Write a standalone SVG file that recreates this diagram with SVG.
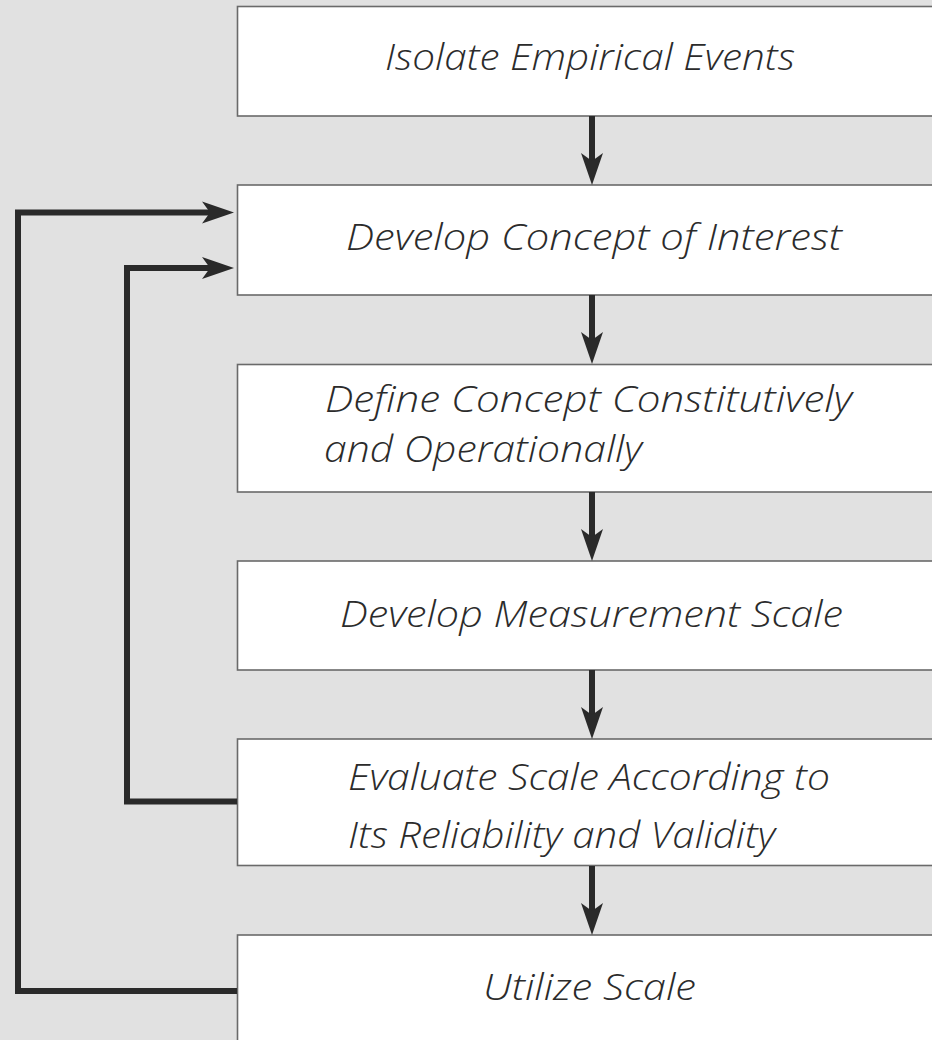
<svg xmlns="http://www.w3.org/2000/svg" width="932" height="1040" viewBox="0 0 932 1040">
<style>
.box{fill:#ffffff;stroke:#6a6a6a;stroke-width:1.6}
.lbl{font-family:"Open Sans","Lato","DejaVu Sans",sans-serif;font-style:italic;font-weight:300;font-size:36px;fill:#2b2b2b}
.wire{fill:none;stroke:#2a2a2a;stroke-width:6;stroke-linejoin:miter}
</style>
<defs>
<marker id="ah" markerUnits="userSpaceOnUse" markerWidth="34" markerHeight="26" viewBox="0 -12 34 24" refX="8" refY="0" orient="auto">
<path d="M0,-11 L32,0 L0,11 L8,0 Z" fill="#2a2a2a"/>
</marker>
</defs>
<rect x="0" y="0" width="932" height="1040" fill="#e1e1e1"/>
<g id="n1"><rect class="box" x="237.5" y="6.5" width="720" height="109.5"/><text class="lbl" x="385" y="70" textLength="410" lengthAdjust="spacingAndGlyphs">Isolate Empirical Events</text></g>
<g id="n2"><rect class="box" x="237.5" y="185" width="720" height="110"/><text class="lbl" x="346" y="250" textLength="496" lengthAdjust="spacingAndGlyphs">Develop Concept of Interest</text></g>
<g id="n3"><rect class="box" x="237.5" y="364.5" width="720" height="127.5"/><text class="lbl" x="325" y="412" textLength="527" lengthAdjust="spacingAndGlyphs">Define Concept Constitutively</text><text class="lbl" x="324" y="462" textLength="318" lengthAdjust="spacingAndGlyphs">and Operationally</text></g>
<g id="n4"><rect class="box" x="237.5" y="561" width="720" height="109"/><text class="lbl" x="340" y="627" textLength="503" lengthAdjust="spacingAndGlyphs">Develop Measurement Scale</text></g>
<g id="n5"><rect class="box" x="237.5" y="739" width="720" height="126.5"/><text class="lbl" x="348" y="790" textLength="482" lengthAdjust="spacingAndGlyphs">Evaluate Scale According to</text><text class="lbl" x="348" y="848" textLength="427" lengthAdjust="spacingAndGlyphs">Its Reliability and Validity</text></g>
<g id="n6"><rect class="box" x="237.5" y="935" width="720" height="130"/><text class="lbl" x="483" y="1000" textLength="213" lengthAdjust="spacingAndGlyphs">Utilize Scale</text></g>
<g id="connectors">
<line class="wire" x1="592" y1="116" x2="592" y2="161" marker-end="url(#ah)"/>
<line class="wire" x1="592" y1="295" x2="592" y2="340" marker-end="url(#ah)"/>
<line class="wire" x1="592" y1="492" x2="592" y2="537" marker-end="url(#ah)"/>
<line class="wire" x1="592" y1="670" x2="592" y2="715" marker-end="url(#ah)"/>
<line class="wire" x1="592" y1="866" x2="592" y2="911" marker-end="url(#ah)"/>
<path class="wire" d="M237,991 H18 V212.5 H210" marker-end="url(#ah)"/>
<path class="wire" d="M237,801.5 H127 V268 H210" marker-end="url(#ah)"/>
</g>
</svg>
